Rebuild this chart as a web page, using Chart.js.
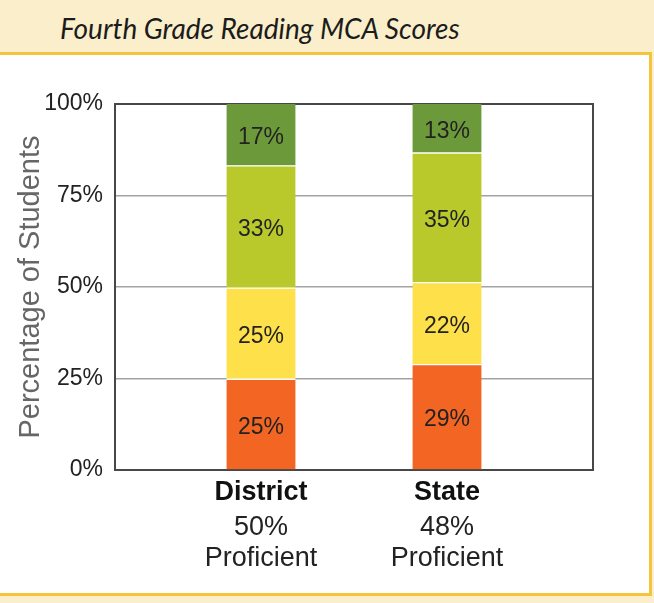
<!DOCTYPE html>
<html>
<head>
<meta charset="utf-8">
<script src="https://cdn.jsdelivr.net/npm/chart.js@4"></script>
<style>
  html, body { margin: 0; padding: 0; }
  body {
    width: 654px; height: 603px; overflow: hidden;
    background: #fbefcb; position: relative;
    font-family: "Liberation Sans", Arial, sans-serif;
  }
  #title {
    position: absolute; left: 60px; top: 11px;
    font-family: Lato, "Open Sans", sans-serif;
    font-style: italic; font-size: 28px; color: #1c1c1c;
    white-space: nowrap;
  }
  #box {
    position: absolute; left: -3px; top: 52px;
    width: 649px; height: 538px;
    border: 3px solid #f4c53a; background: #fff;
  }
  #chart { display: block; }
</style>
</head>
<body>
<div id="title">Fourth Grade Reading MCA Scores</div>
<div id="box"><canvas id="chart" width="649" height="538"></canvas></div>
<script>
// Dados do gráfico (rótulos mostram os valores arredondados)
const categories = ["District", "State"];
const proficient = ["50%", "48%"];
const levels = ["Does Not Meet", "Partially Meets", "Meets", "Exceeds"];
const doesNotMeet = [24.8, 28.8];
const partiallyMeets = [24.9, 22.4];
const meets = [33.4, 35.4];
const exceeds = [16.9, 13.4];
const yTicks = [0, 25, 50, 75, 100];

const colors = ["#f26522", "#fde04a", "#b9c92c", "#6c9a3b"];
const series = [doesNotMeet, partiallyMeets, meets, exceeds];

const FRAME = "#474747";
const GRID = "#a3a3a3";
const X_MIN = -0.785;
const X_MAX = 1.785;

// Escreve o valor no meio de cada segmento
const barLabels = {
  id: "barLabels",
  afterDatasetsDraw(chart) {
    const ctx = chart.ctx;
    ctx.save();
    ctx.font = "23px 'Liberation Sans', Arial, sans-serif";
    ctx.fillStyle = "#222";
    ctx.textAlign = "center";
    ctx.textBaseline = "middle";
    chart.data.datasets.forEach((ds, i) => {
      chart.getDatasetMeta(i).data.forEach((bar, j) => {
        const { x, y, base } = bar.getProps(["x", "y", "base"], true);
        ctx.fillText(Math.round(ds.data[j].y) + "%", x, (y + base) / 2 + 3);
      });
    });
    ctx.restore();
  },
};

const datasets = series.map((values, i) => ({
  label: levels[i],
  data: values.map((v, j) => ({ x: j, y: v })),
  backgroundColor: colors[i],
  borderColor: "#ffffff",
  borderWidth: { top: i < series.length - 1 ? 1 : 0, bottom: i > 0 ? 1 : 0, left: 0, right: 0 },
  borderSkipped: false,
  barThickness: 69,
}));

new Chart(document.getElementById("chart"), {
  type: "bar",
  data: { datasets: datasets },
  plugins: [barLabels],
  options: {
    responsive: false,
    animation: false,
    layout: { padding: { top: 49, right: 56, bottom: 0, left: 0 } },
    plugins: { legend: { display: false }, tooltip: { enabled: false } },
    scales: {
      x: {
        type: "linear",
        stacked: true,
        offset: false,
        bounds: "data",
        min: X_MIN,
        max: X_MAX,
        afterBuildTicks: (s) => { s.ticks = categories.map((c, i) => ({ value: i })); },
        afterFit: (s) => { s.height = 38; },
        grid: { display: false, drawTicks: false, offset: false },
        border: { color: FRAME, width: 2 },
        ticks: {
          autoSkip: false,
          maxRotation: 0,
          padding: 6,
          color: "#111",
          font: { family: "'Liberation Sans', Arial, sans-serif", size: 27, weight: "bold" },
          callback: (v) => categories[v],
        },
      },
      x2: {
        type: "linear",
        position: "bottom",
        offset: false,
        bounds: "data",
        min: X_MIN,
        max: X_MAX,
        afterBuildTicks: (s) => { s.ticks = categories.map((c, i) => ({ value: i })); },
        afterFit: (s) => { s.height = 85; },
        grid: { display: false, drawTicks: false, offset: false },
        border: { display: false },
        ticks: {
          autoSkip: false,
          maxRotation: 0,
          padding: 4,
          color: "#222",
          font: { family: "'Liberation Sans', Arial, sans-serif", size: 27, lineHeight: 1.15 },
          callback: (v) => [proficient[v], "Proficient"],
        },
      },
      y: {
        stacked: true,
        min: 0,
        max: 100,
        afterBuildTicks: (s) => { s.ticks = yTicks.map((v) => ({ value: v })); },
        afterFit: (s) => { s.width = 115; },
        grid: {
          drawTicks: false,
          color: (c) => (c.tick && c.tick.value === 100 ? FRAME : GRID),
          lineWidth: (c) => (c.tick && c.tick.value === 100 ? 2 : 1.5),
        },
        border: { color: FRAME, width: 2 },
        ticks: {
          padding: 12,
          color: "#222",
          font: { family: "'Liberation Sans', Arial, sans-serif", size: 23 },
          callback: (v) => v + "%",
        },
        title: {
          display: true,
          text: "Percentage of Students",
          color: "#666",
          padding: { top: 14, bottom: 0 },
          font: { family: "'Liberation Sans', Arial, sans-serif", size: 29 },
        },
      },
      y2: {
        position: "right",
        afterFit: (s) => { s.width = 0; },
        grid: { display: false, drawTicks: false },
        ticks: { display: false },
        border: { color: FRAME, width: 2 },
      },
    },
  },
});
</script>
</body>
</html>
